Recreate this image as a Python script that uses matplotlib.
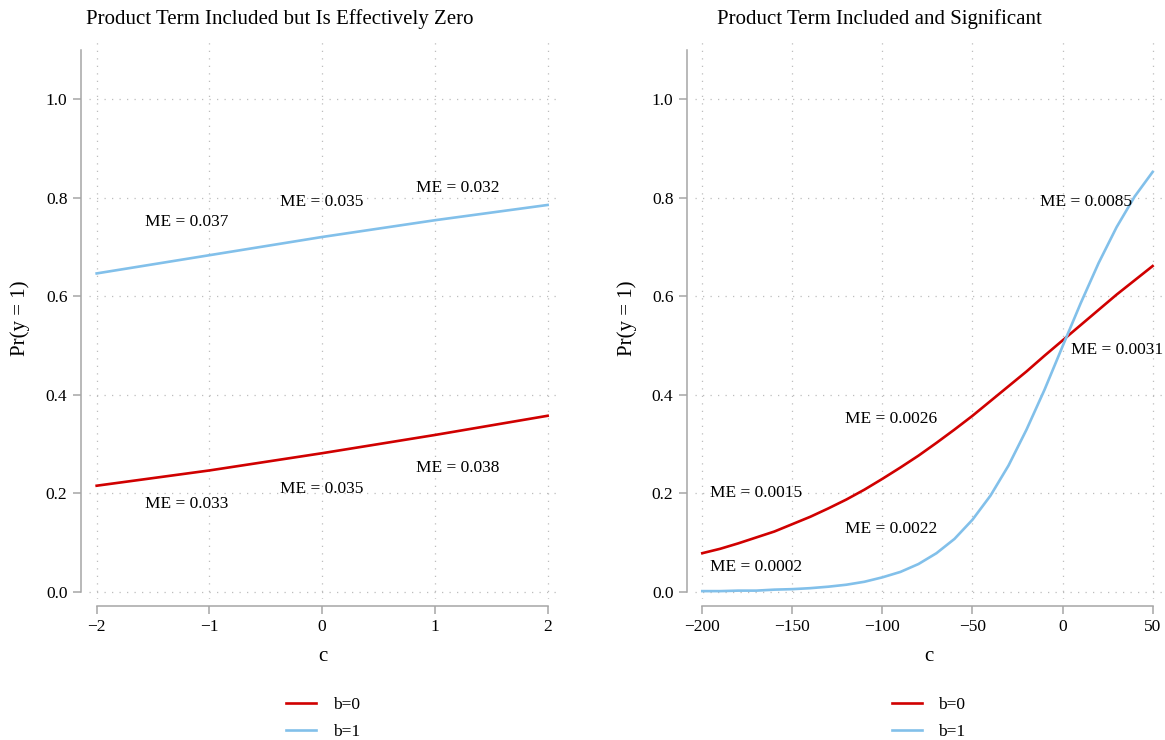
import numpy as np
import matplotlib
matplotlib.use("Agg")
import matplotlib.pyplot as plt

plt.rcParams['font.family'] = ['Liberation Serif', 'DejaVu Serif']

# left panel: product term ~ 0
c_left = [-2, -1, 0, 1, 2]
left_b0 = [0.215, 0.246, 0.281, 0.318, 0.357]
left_b1 = [0.646, 0.683, 0.720, 0.754, 0.785]
left_me_x = [-1.2, 0, 1.2, -1.2, 0, 1.2]
left_me_y = [0.750, 0.791, 0.819, 0.178, 0.208, 0.251]
left_me_txt = ["ME = 0.037", "ME = 0.035", "ME = 0.032",
               "ME = 0.033", "ME = 0.035", "ME = 0.038"]

# right panel: product term significant
c_right = [-200, -190, -180, -170, -160, -150, -140, -130, -120, -110, -100,
           -90, -80, -70, -60, -50, -40, -30, -20, -10, 0, 10, 20, 30, 40, 50]
right_b0 = [0.078, 0.087, 0.098, 0.110, 0.122, 0.137, 0.152, 0.169, 0.187,
            0.207, 0.229, 0.252, 0.276, 0.302, 0.329, 0.357, 0.387, 0.417,
            0.447, 0.479, 0.510, 0.541, 0.572, 0.603, 0.632, 0.661]
right_b1 = [0.001, 0.001, 0.002, 0.002, 0.004, 0.005, 0.007, 0.010, 0.014,
            0.020, 0.029, 0.040, 0.056, 0.078, 0.107, 0.146, 0.195, 0.256,
            0.329, 0.410, 0.498, 0.585, 0.667, 0.740, 0.802, 0.852]
right_me_x = [-170, -170, -95, -95, 13, 30]
right_me_y = [0.200, 0.049, 0.350, 0.128, 0.791, 0.490]
right_me_txt = ["ME = 0.0015", "ME = 0.0002", "ME = 0.0026",
                "ME = 0.0022", "ME = 0.0085", "ME = 0.0031"]

titles = ["Product Term Included but Is Effectively Zero",
          "Product Term Included and Significant"]
labels = ["b=0", "b=1"]

RED = '#D00000'
BLUE = '#82C0EA'
GREY = '#a6a6a6'

W, H = 1165, 740
fig = plt.figure(figsize=(W / 100, H / 100), dpi=100)

ax1 = fig.add_axes([89 / W, 1 - 599 / H, 468 / W, 562 / H])
ax2 = fig.add_axes([695 / W, 1 - 599 / H, 467 / W, 562 / H])


def style_axis(ax, xticks, xlim, title_x, title):
    ax.set_facecolor('none')
    ax.set_xlim(*xlim)
    ax.set_ylim(-0.015, 1.126)
    ax.set_xticks(xticks)
    ax.set_yticks([0, 0.2, 0.4, 0.6, 0.8, 1.0])
    ax.set_yticklabels(["0.0", "0.2", "0.4", "0.6", "0.8", "1.0"])
    ax.grid(True, color='#bdbdbd', linestyle=(0, (1, 5)), linewidth=0.9)
    for s in ['top', 'right']:
        ax.spines[s].set_visible(False)
    ax.spines['left'].set_position(('outward', 6))
    ax.spines['bottom'].set_position(('outward', 5))
    ax.spines['left'].set_bounds(0, 1.1)
    ax.spines['bottom'].set_bounds(xticks[0], xticks[-1])
    for s in ['left', 'bottom']:
        ax.spines[s].set_color(GREY)
        ax.spines[s].set_linewidth(1.1)
    ax.tick_params(colors=GREY, labelcolor='black', length=6, width=1.1,
                   labelsize=12.5, pad=3.5)
    ax.set_xlabel("c", fontsize=15)
    ax.xaxis.set_label_coords(0.5, -0.085)
    ax.set_ylabel("Pr(y = 1)", fontsize=15)
    ax.yaxis.set_label_coords(-0.125, 0.5)
    fig.text(title_x / W, 1 - 19 / H, title, ha='center', va='center',
             fontsize=15)
    ax.legend(loc='upper center', bbox_to_anchor=(0.5, -0.156), frameon=False,
              fontsize=12.5, handlelength=1.75, handletextpad=0.95,
              labelspacing=0.6, borderaxespad=0.2)


ax1.plot(c_left, left_b0, color=RED, lw=1.9, label=labels[0])
ax1.plot(c_left, left_b1, color=BLUE, lw=1.9, label=labels[1])
for x, y, t in zip(left_me_x, left_me_y, left_me_txt):
    ax1.text(x, y, t, ha='center', va='center', fontsize=12.5)
style_axis(ax1, [-2, -1, 0, 1, 2], (-2.068, 2.083), 280, titles[0])

ax2.plot(c_right, right_b0, color=RED, lw=1.9, label=labels[0])
ax2.plot(c_right, right_b1, color=BLUE, lw=1.9, label=labels[1])
for x, y, t in zip(right_me_x, right_me_y, right_me_txt):
    ax2.text(x, y, t, ha='center', va='center', fontsize=12.5)
style_axis(ax2, [-200, -150, -100, -50, 0, 50], (-204.05, 55.2), 879, titles[1])

fig.savefig("out.png", dpi=100)
